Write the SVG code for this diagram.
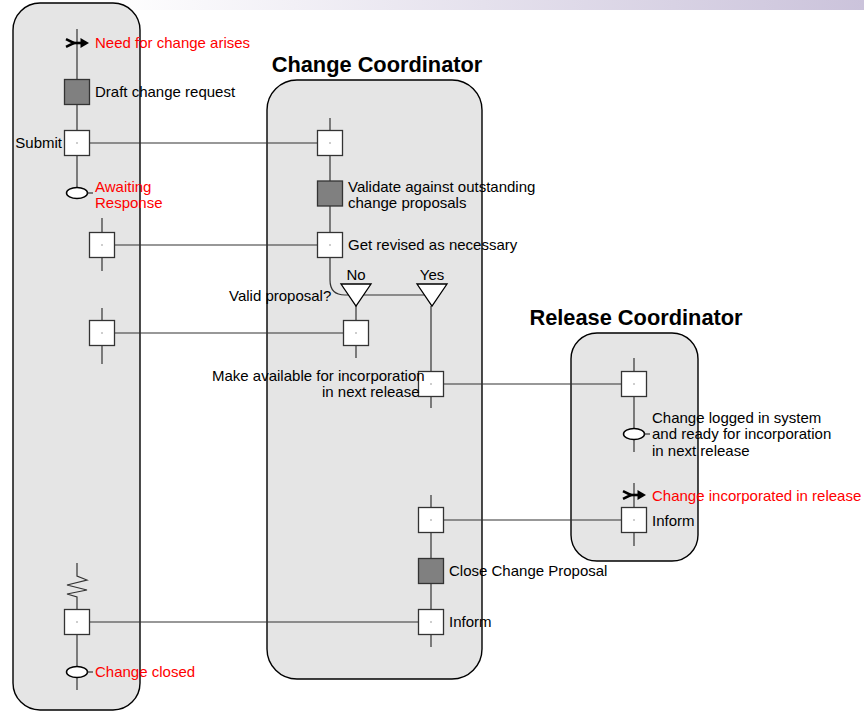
<svg xmlns="http://www.w3.org/2000/svg" width="864" height="712" viewBox="0 0 864 712">
<defs>
<linearGradient id="band" x1="0" y1="0" x2="1" y2="0">
<stop offset="0" stop-color="#ffffff"/>
<stop offset="0.12" stop-color="#ffffff"/>
<stop offset="1" stop-color="#cbc3db"/>
</linearGradient>
<symbol id="evt" viewBox="-12 -6 24 12" width="24" height="12" overflow="visible">
<path d="M-11,-3.8 L-3,0 L-11,3.8" fill="none" stroke="#000" stroke-width="2.6"/>
<line x1="-5" y1="0" x2="5" y2="0" stroke="#000" stroke-width="2.6"/>
<polygon points="3.5,-5 12,0 3.5,5" fill="#000"/>
</symbol>
</defs>
<style>
.lane{fill:#e5e5e5;stroke:#000;stroke-width:1.4}
.box{fill:#fff;stroke:#333;stroke-width:1.3}
.act{fill:#808080;stroke:#333;stroke-width:1.3}
.ln{stroke:#333;stroke-width:1.2;fill:none}
.dot{fill:#777}
.ell{fill:#fff;stroke:#000;stroke-width:1.5}
.tri{fill:#fff;stroke:#000;stroke-width:1.3}
text{font-family:"Liberation Sans",Arial,sans-serif;font-size:15px;fill:#000}
.red{fill:#ff0000}
.title{font-weight:bold;font-size:21.8px;text-anchor:middle}
</style>
<rect x="0" y="0" width="864" height="10" fill="url(#band)"/>

<g id="lanes">
<rect id="lane-originator" class="lane" x="13" y="3" width="127" height="707" rx="27" ry="27"/>
<rect id="lane-change" class="lane" x="267" y="80" width="215" height="599" rx="30" ry="30"/>
<rect id="lane-release" class="lane" x="571" y="333" width="127" height="228" rx="26" ry="26"/>
<text class="title" x="377" y="72">Change Coordinator</text>
<text class="title" x="636" y="325">Release Coordinator</text>
</g>

<g id="connectors">
<line class="ln" x1="89" y1="143" x2="318" y2="143"/>
<line class="ln" x1="115" y1="245" x2="318" y2="245"/>
<line class="ln" x1="115" y1="333" x2="344" y2="333"/>
<line class="ln" x1="444" y1="384" x2="622" y2="384"/>
<line class="ln" x1="444" y1="520" x2="622" y2="520"/>
<line class="ln" x1="89" y1="622" x2="419" y2="622"/>
<line class="ln" x1="77" y1="29" x2="77" y2="79"/>
<line class="ln" x1="77" y1="105" x2="77" y2="130"/>
<line class="ln" x1="77" y1="156" x2="77" y2="188"/>
<line class="ln" x1="102" y1="218" x2="102" y2="232"/>
<line class="ln" x1="102" y1="257" x2="102" y2="271"/>
<line class="ln" x1="102" y1="308" x2="102" y2="320"/>
<line class="ln" x1="102" y1="346" x2="102" y2="364"/>
<path class="ln" d="M77,563 V576 L87,580 L67,585 L87,590 L67,594 L77,597 V609"/>
<line class="ln" x1="77" y1="634" x2="77" y2="667"/>
<line class="ln" x1="77" y1="677" x2="77" y2="690"/>
<line class="ln" x1="330" y1="118" x2="330" y2="130"/>
<line class="ln" x1="330" y1="156" x2="330" y2="181"/>
<line class="ln" x1="330" y1="206" x2="330" y2="232"/>
<path class="ln" d="M330,257 V280 Q330,295 345,295 H432"/>
<line class="ln" x1="356" y1="306" x2="356" y2="320"/>
<line class="ln" x1="356" y1="346" x2="356" y2="358"/>
<line class="ln" x1="431" y1="306" x2="431" y2="372"/>
<line class="ln" x1="431" y1="397" x2="431" y2="408"/>
<line class="ln" x1="431" y1="495" x2="431" y2="508"/>
<line class="ln" x1="431" y1="533" x2="431" y2="558"/>
<line class="ln" x1="431" y1="584" x2="431" y2="609"/>
<line class="ln" x1="431" y1="634" x2="431" y2="647"/>
<line class="ln" x1="634" y1="358" x2="634" y2="371"/>
<line class="ln" x1="634" y1="397" x2="634" y2="429"/>
<line class="ln" x1="634" y1="439" x2="634" y2="452"/>
<line class="ln" x1="634" y1="483" x2="634" y2="508"/>
<line class="ln" x1="634" y1="533" x2="634" y2="546"/>
</g>

<g id="need-for-change">
<use href="#evt" x="65" y="37"/>
<text class="red" x="95" y="48">Need for change arises</text>
</g>
<g id="draft">
<rect class="act" x="64.5" y="79.5" width="25" height="25"/>
<text x="95" y="97">Draft change request</text>
</g>
<g id="submit">
<rect class="box" x="64.5" y="130.5" width="25" height="25"/>
<circle class="dot" cx="77" cy="143" r="0.7"/>
<text x="62" y="148" text-anchor="end">Submit</text>
</g>
<g id="awaiting">
<ellipse class="ell" cx="77" cy="193" rx="10.5" ry="5.5"/>
<line class="ln" x1="87.5" y1="193" x2="93" y2="193"/>
<text class="red" x="95" y="192">Awaiting</text>
<text class="red" x="95" y="208">Response</text>
</g>
<g id="orig-receive-1">
<rect class="box" x="89.5" y="232.5" width="25" height="25"/>
<circle class="dot" cx="102" cy="245" r="0.7"/>
</g>
<g id="orig-receive-2">
<rect class="box" x="89.5" y="320.5" width="25" height="25"/>
<circle class="dot" cx="102" cy="333" r="0.7"/>
</g>
<g id="orig-inform">
<rect class="box" x="64.5" y="609.5" width="25" height="25"/>
<circle class="dot" cx="77" cy="622" r="0.7"/>
</g>
<g id="change-closed">
<ellipse class="ell" cx="77" cy="672" rx="10.5" ry="5.5"/>
<line class="ln" x1="87.5" y1="672" x2="93" y2="672"/>
<text class="red" x="95" y="677">Change closed</text>
</g>

<g id="cc-receive">
<rect class="box" x="317.5" y="130.5" width="25" height="25"/>
<circle class="dot" cx="330" cy="143" r="0.7"/>
</g>
<g id="validate">
<rect class="act" x="317.5" y="181" width="25" height="25"/>
<text x="348" y="192">Validate against outstanding</text>
<text x="348" y="208">change proposals</text>
</g>
<g id="get-revised">
<rect class="box" x="317.5" y="232.5" width="25" height="25"/>
<circle class="dot" cx="330" cy="245" r="0.7"/>
<text x="348" y="250">Get revised as necessary</text>
</g>
<g id="decision">
<polygon class="tri" points="341,284 371,284 356,306"/>
<polygon class="tri" points="417,284 447,284 432,306"/>
<text x="356" y="280" text-anchor="middle">No</text>
<text x="432" y="280" text-anchor="middle">Yes</text>
<text x="229" y="301">Valid proposal?</text>
</g>
<g id="cc-reject">
<rect class="box" x="343.5" y="320.5" width="25" height="25"/>
<circle class="dot" cx="356" cy="333" r="0.7"/>
</g>
<g id="make-available">
<rect class="box" x="418.5" y="371.5" width="25" height="25"/>
<circle class="dot" cx="431" cy="384" r="0.7"/>
<text x="212" y="381">Make available for incorporation</text>
<text x="322" y="397">in next release</text>
</g>
<g id="cc-receive-2">
<rect class="box" x="418.5" y="507.5" width="25" height="25"/>
<circle class="dot" cx="431" cy="520" r="0.7"/>
</g>
<g id="close-proposal">
<rect class="act" x="418.5" y="558.5" width="25" height="25"/>
<text x="449" y="576">Close Change Proposal</text>
</g>
<g id="cc-inform">
<rect class="box" x="418.5" y="609.5" width="25" height="25"/>
<circle class="dot" cx="431" cy="622" r="0.7"/>
<text x="449" y="627">Inform</text>
</g>

<g id="rc-receive">
<rect class="box" x="621.5" y="371.5" width="25" height="25"/>
<circle class="dot" cx="634" cy="384" r="0.7"/>
</g>
<g id="change-logged">
<ellipse class="ell" cx="634" cy="434" rx="10.5" ry="5.5"/>
<line class="ln" x1="644.5" y1="434" x2="650" y2="434"/>
<text x="652" y="423">Change logged in system</text>
<text x="652" y="439">and ready for incorporation</text>
<text x="652" y="456">in next release</text>
</g>
<g id="change-incorporated">
<use href="#evt" x="622" y="489"/>
<text class="red" x="652" y="501">Change incorporated in release</text>
</g>
<g id="rc-inform">
<rect class="box" x="621.5" y="507.5" width="25" height="25"/>
<circle class="dot" cx="634" cy="520" r="0.7"/>
<text x="652" y="526">Inform</text>
</g>
</svg>
